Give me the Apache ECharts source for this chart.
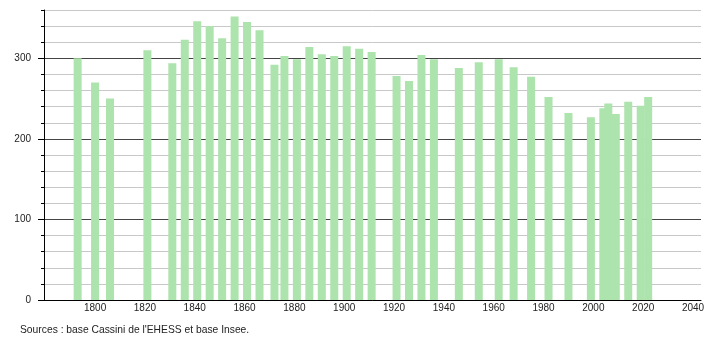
<!DOCTYPE html>
<html>
<head>
<meta charset="utf-8">
<script src="https://cdn.jsdelivr.net/npm/echarts@6/dist/echarts.min.js"></script>
<style>
html,body{margin:0;padding:0;background:#fff;}
#chart{width:710px;height:340px;}
</style>
</head>
<body>
<div id="chart"></div>
<script>
var years = [1793, 1800, 1806, 1821, 1831, 1836, 1841, 1846, 1851, 1856, 1861, 1866, 1872, 1876, 1881, 1886, 1891, 1896, 1901, 1906, 1911, 1921, 1926, 1931, 1936, 1946, 1954, 1962, 1968, 1975, 1982, 1990, 1999, 2004, 2006, 2009, 2014, 2019, 2022];
var population = [300, 270, 250, 310, 294, 323, 346, 340, 325, 352, 345, 335, 292, 303, 299, 314, 305, 303, 315, 312, 308, 278, 272, 304, 299, 288, 295, 299, 289, 277, 252, 232, 227, 238, 244, 231, 246, 241, 252];
var xTickLabels = [1800, 1820, 1840, 1860, 1880, 1900, 1920, 1940, 1960, 1980, 2000, 2020, 2040];
var yTickLabels = [0, 100, 200, 300];
var sourceText = "Sources : base Cassini de l'EHESS et base Insee.";

var data = years.map(function (y, i) { return [y, population[i]]; });

var chart = echarts.init(document.getElementById('chart'), null, {renderer: 'canvas'});
chart.setOption({
  animation: false,
  backgroundColor: '#ffffff',
  grid: {left: 44, right: 9, top: 10, bottom: 40, containLabel: false},
  xAxis: {
    type: 'value',
    min: 1779.5,
    max: 2043.2,
    axisLine: {show: true, lineStyle: {color: '#000', width: 1}},
    axisTick: {show: false},
    splitLine: {show: false},
    axisLabel: {
      customValues: xTickLabels,
      margin: 3,
      fontFamily: 'Liberation Sans, Arial, sans-serif',
      fontSize: 10,
      color: '#222',
      formatter: function (v) { return String(v); }
    }
  },
  yAxis: [{
    type: 'value',
    min: 0,
    max: 360,
    interval: 20,
    axisLine: {show: true, lineStyle: {color: '#000', width: 1}},
    axisTick: {show: true, length: 3, lineStyle: {color: '#000'}},
    axisLabel: {show: false},
    splitLine: {show: true, lineStyle: {color: ['#444', '#c8c8c8', '#c8c8c8', '#c8c8c8', '#c8c8c8'], width: 1}}
  }, {
    type: 'value',
    position: 'left',
    min: 0,
    max: 360,
    interval: 20,
    axisLine: {show: false},
    axisTick: {show: true, length: 6, customValues: yTickLabels, lineStyle: {color: '#000'}},
    splitLine: {show: false},
    axisLabel: {
      customValues: yTickLabels,
      margin: 13,
      fontFamily: 'Liberation Sans, Arial, sans-serif',
      fontSize: 10,
      color: '#222'
    }
  }],
  graphic: [{
    type: 'text',
    left: 20,
    top: 325,
    style: {
      text: sourceText,
      fontFamily: 'Liberation Sans, Arial, sans-serif',
      fontSize: 10.3,
      fill: '#222'
    }
  }],
  series: [{
    type: 'bar',
    yAxisIndex: 0,
    data: data,
    barWidth: 8,
    itemStyle: {color: '#ade3ad'},
    emphasis: {disabled: true}
  }]
});
</script>
</body>
</html>
